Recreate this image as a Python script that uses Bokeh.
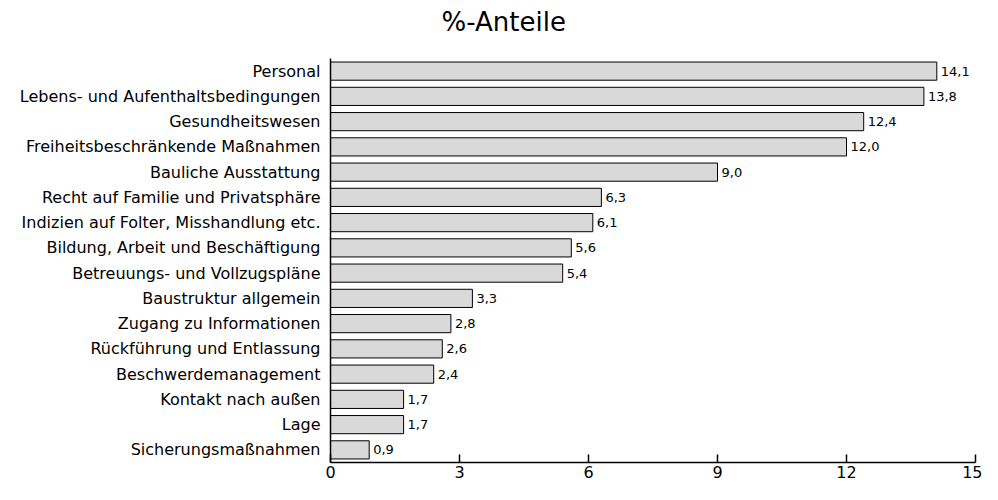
from bokeh.plotting import figure
from bokeh.models import ColumnDataSource, FixedTicker, Range1d, FactorRange, Title
from bokeh.core.properties import value
from bokeh.embed import file_html
from bokeh.resources import INLINE

categories = [
    "Personal",
    "Lebens- und Aufenthaltsbedingungen",
    "Gesundheitswesen",
    "Freiheitsbeschränkende Maßnahmen",
    "Bauliche Ausstattung",
    "Recht auf Familie und Privatsphäre",
    "Indizien auf Folter, Misshandlung etc.",
    "Bildung, Arbeit und Beschäftigung",
    "Betreuungs- und Vollzugspläne",
    "Baustruktur allgemein",
    "Zugang zu Informationen",
    "Rückführung und Entlassung",
    "Beschwerdemanagement",
    "Kontakt nach außen",
    "Lage",
    "Sicherungsmaßnahmen",
]
shares = [14.1, 13.8, 12.4, 12.0, 9.0, 6.3, 6.1, 5.6, 5.4, 3.3, 2.8, 2.6, 2.4, 1.7, 1.7, 0.9]
x_ticks = [0, 3, 6, 9, 12, 15]
title_text = "%-Anteile"

FONT = "DejaVu Sans"

labels = [f"{v:.1f}".replace(".", ",") for v in shares]
src = ColumnDataSource(dict(cat=categories, val=shares, lab=labels))

p = figure(
    width=982, height=484,
    y_range=FactorRange(*reversed(categories), range_padding=0),
    x_range=Range1d(0, 15),
    output_backend="svg", toolbar_location=None,
    min_border_left=330, min_border_right=7,
    min_border_top=58, min_border_bottom=22,
)

# spacer panel between the title and the plot area
spacer = Title(text=" ", text_font_size="1px", standoff=12)
p.add_layout(spacer, "above")
main_title = Title(text=title_text, text_font=FONT, text_font_size="26px",
                   text_font_style="normal", text_color="black",
                   align="left", vertical_align="top", offset=111, standoff=10)
p.add_layout(main_title, "above")

p.hbar(y="cat", right="val", left=0, height=0.72, source=src,
       fill_color="#d9d9d9", line_color="black", line_width=1)

p.text(x="val", y="cat", text="lab", source=src, x_offset=4,
       text_baseline="middle", text_align="left",
       text_font=value(FONT), text_font_size="13px", text_color="black")

p.xgrid.visible = False
p.ygrid.visible = False
p.outline_line_color = None

xa = p.xaxis[0]
xa.ticker = FixedTicker(ticks=x_ticks)
xa.major_tick_in = 8
xa.major_tick_out = 0
xa.minor_tick_line_color = None
xa.axis_line_width = 1.5
xa.major_tick_line_width = 1.5
xa.axis_line_color = "black"
xa.major_tick_line_color = "black"
xa.major_label_text_font = FONT
xa.major_label_text_font_size = "16px"
xa.major_label_text_color = "black"
xa.major_label_standoff = 3

ya = p.yaxis[0]
ya.major_tick_in = 0
ya.major_tick_out = 0
ya.minor_tick_line_color = None
ya.major_tick_line_color = None
ya.axis_line_width = 1.5
ya.axis_line_color = "black"
ya.major_label_text_font = FONT
ya.major_label_text_font_size = "16px"
ya.major_label_text_color = "black"
ya.major_label_standoff = 10

open("out.html", "w").write(file_html(p, INLINE))
